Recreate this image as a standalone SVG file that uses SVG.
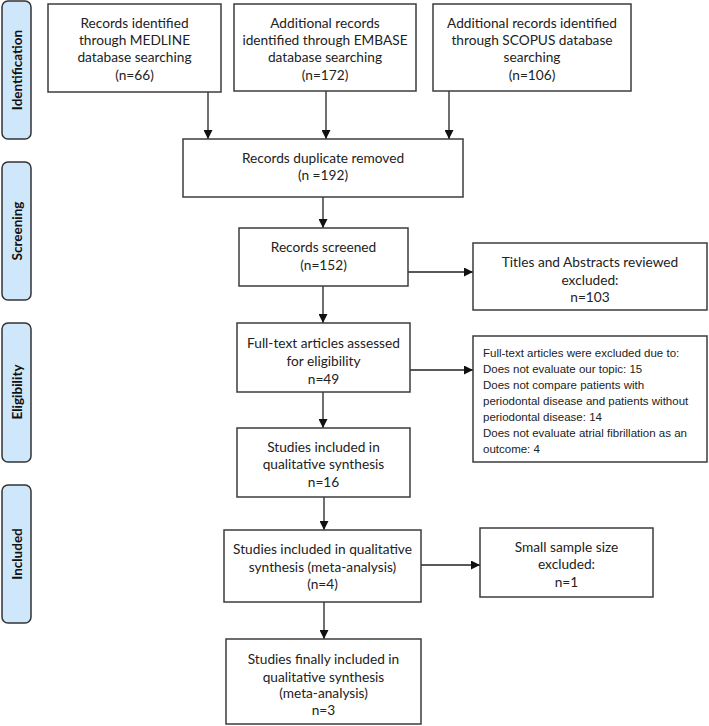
<svg xmlns="http://www.w3.org/2000/svg" width="709" height="726" viewBox="0 0 709 726">
<style>
.box{fill:#fff;stroke:#3c3c3c;stroke-width:1.5}
.lab{fill:#cfe7fa;stroke:#333;stroke-width:1.5}
.t{font-family:Lato,"Liberation Sans",sans-serif;font-size:13.7px;fill:#222;text-anchor:middle}
.lt{font-family:Lato,"Liberation Sans",sans-serif;font-size:13.5px;font-weight:bold;fill:#111;text-anchor:middle}
.a{font-family:"Liberation Sans",Arial,sans-serif;font-size:11.5px;fill:#222}
.c{stroke:#222;stroke-width:1.3;fill:none;marker-end:url(#ah)}
</style>
<defs>
<marker id="ah" viewBox="0 0 10 10" refX="10" refY="5" markerWidth="9" markerHeight="9" markerUnits="userSpaceOnUse" orient="auto">
<path d="M0,0 L10,5 L0,10 z" fill="#111"/>
</marker>
</defs>
<rect width="709" height="726" fill="#fff"/>
<g id="labels">
<g id="lab-identification"><rect class="lab" x="2" y="1" width="29" height="138" rx="6"/><text class="lt" transform="translate(21.5,70) rotate(-90)">Identification</text></g>
<g id="lab-screening"><rect class="lab" x="2" y="162" width="29" height="138" rx="6"/><text class="lt" transform="translate(21.5,231) rotate(-90)">Screening</text></g>
<g id="lab-eligibility"><rect class="lab" x="2" y="323" width="29" height="139" rx="6"/><text class="lt" transform="translate(21.5,392) rotate(-90)">Eligibility</text></g>
<g id="lab-included"><rect class="lab" x="2" y="485" width="29" height="138" rx="6"/><text class="lt" transform="translate(21.5,554) rotate(-90)">Included</text></g>
</g>
<g id="connectors">
<line class="c" x1="208" y1="92" x2="208" y2="139"/>
<line class="c" x1="326" y1="91" x2="326" y2="139"/>
<line class="c" x1="449" y1="91" x2="449" y2="139"/>
<line class="c" x1="323" y1="197" x2="323" y2="228"/>
<line class="c" x1="323" y1="286" x2="323" y2="323"/>
<line class="c" x1="408" y1="272" x2="473" y2="272"/>
<line class="c" x1="410" y1="370" x2="473" y2="370"/>
<line class="c" x1="323" y1="392" x2="323" y2="428"/>
<line class="c" x1="324" y1="497" x2="324" y2="530"/>
<line class="c" x1="421" y1="565" x2="480" y2="565"/>
<line class="c" x1="324" y1="602" x2="324" y2="639"/>
</g>
<g id="n-medline"><rect class="box" x="48" y="4" width="173" height="88"/>
<text class="t" x="134.5" y="28">Records identified</text><text class="t" x="134.5" y="45">through MEDLINE</text><text class="t" x="134.5" y="62">database searching</text><text class="t" x="134.5" y="80">(n=66)</text></g>
<g id="n-embase"><rect class="box" x="234" y="4" width="182" height="87"/>
<text class="t" x="325" y="28">Additional records</text><text class="t" x="325" y="45">identified through EMBASE</text><text class="t" x="325" y="62">database searching</text><text class="t" x="325" y="80">(n=172)</text></g>
<g id="n-scopus"><rect class="box" x="433" y="4" width="198" height="87"/>
<text class="t" x="532" y="28">Additional records identified</text><text class="t" x="532" y="45">through SCOPUS database</text><text class="t" x="532" y="62">searching</text><text class="t" x="532" y="80">(n=106)</text></g>
<g id="n-duplicates"><rect class="box" x="183" y="139" width="280" height="58"/>
<text class="t" x="323" y="163">Records duplicate removed</text><text class="t" x="323" y="180">(n =192)</text></g>
<g id="n-screened"><rect class="box" x="239" y="228" width="169" height="58"/>
<text class="t" x="323.5" y="252">Records screened</text><text class="t" x="323.5" y="270">(n=152)</text></g>
<g id="n-titles"><rect class="box" x="473" y="243" width="234" height="67"/>
<text class="t" x="590" y="267">Titles and Abstracts reviewed</text><text class="t" x="590" y="285">excluded:</text><text class="t" x="590" y="302">n=103</text></g>
<g id="n-fulltext"><rect class="box" x="237" y="323" width="173" height="69"/>
<text class="t" x="323.5" y="348">Full-text articles assessed</text><text class="t" x="323.5" y="366">for eligibility</text><text class="t" x="323.5" y="384">n=49</text></g>
<g id="n-fulltext-excluded"><rect class="box" x="473" y="336" width="234" height="126"/>
<text class="a" x="483" y="357">Full-text articles were excluded due to:</text>
<text class="a" x="483" y="373">Does not evaluate our topic: 15</text>
<text class="a" x="483" y="389">Does not compare patients with</text>
<text class="a" x="483" y="405">periodontal disease and patients without</text>
<text class="a" x="483" y="421">periodontal disease: 14</text>
<text class="a" x="483" y="437">Does not evaluate atrial fibrillation as an</text>
<text class="a" x="483" y="453">outcome: 4</text></g>
<g id="n-qualitative"><rect class="box" x="237" y="428" width="173" height="69"/>
<text class="t" x="323.5" y="452">Studies included in</text><text class="t" x="323.5" y="469">qualitative synthesis</text><text class="t" x="323.5" y="487">n=16</text></g>
<g id="n-meta"><rect class="box" x="224" y="530" width="197" height="72"/>
<text class="t" x="322.5" y="554">Studies included in qualitative</text><text class="t" x="322.5" y="572">synthesis (meta-analysis)</text><text class="t" x="322.5" y="589">(n=4)</text></g>
<g id="n-small"><rect class="box" x="480" y="528" width="173" height="69"/>
<text class="t" x="566.5" y="552">Small sample size</text><text class="t" x="566.5" y="569">excluded:</text><text class="t" x="566.5" y="587">n=1</text></g>
<g id="n-final"><rect class="box" x="226" y="639" width="195" height="85"/>
<text class="t" x="323.5" y="664">Studies finally included in</text><text class="t" x="323.5" y="682">qualitative synthesis</text><text class="t" x="323.5" y="698">(meta-analysis)</text><text class="t" x="323.5" y="715">n=3</text></g>
</svg>
